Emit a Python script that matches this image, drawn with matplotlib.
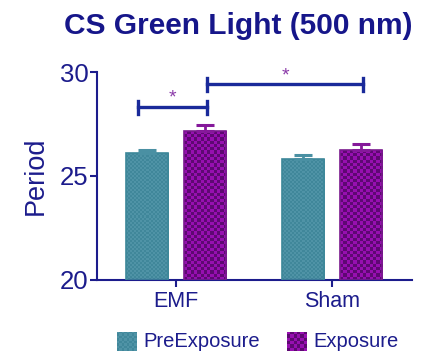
import numpy as np
import matplotlib
matplotlib.use("Agg")
import matplotlib.pyplot as plt

# period values (mean and SEM) per group
groups = ["EMF", "Sham"]
series = ["PreExposure", "Exposure"]
pre_mean = [26.1, 25.8]
pre_err = [0.15, 0.2]
exp_mean = [27.15, 26.25]
exp_err = [0.3, 0.3]

# significance brackets: (x_start, x_end, height)
brackets = [(-0.245, 0.2, 28.3), (0.2, 1.2, 29.4)]

navy = "#1c1c8c"
teal = ("#4f93a6", "#40879a")
purple = ("#970fb0", "#5e0872")

plt.rcParams['font.family'] = ['Liberation Sans', 'DejaVu Sans']

fig = plt.figure(figsize=(4.23, 3.53), dpi=100)
ax = fig.add_axes([0.229, 0.207, 0.745, 0.589])

x = np.arange(len(groups))
w = 0.27
off = 0.187

def checker_fill(bars, colors, cell_px):
    fig.canvas.draw()
    for b in bars:
        bb = b.get_window_extent()
        nx = max(int(bb.width / cell_px), 1)
        ny = max(int(bb.height / cell_px), 1)
        pat = (np.add.outer(np.arange(ny), np.arange(nx)) % 2)
        img = np.zeros((ny, nx, 3))
        c0 = np.array(matplotlib.colors.to_rgb(colors[0]))
        c1 = np.array(matplotlib.colors.to_rgb(colors[1]))
        img[pat == 0] = c0
        img[pat == 1] = c1
        x0, y0 = b.get_x(), b.get_y()
        im = ax.imshow(img, extent=(x0, x0 + b.get_width(), y0, y0 + b.get_height()),
                       aspect='auto', interpolation='nearest', zorder=2)
        im.set_clip_path(b)

b1 = ax.bar(x - off, [m - 20 for m in pre_mean], w, bottom=20, color=teal[0],
            edgecolor="#3d8799", linewidth=1.2, zorder=3)
b2 = ax.bar(x + off, [m - 20 for m in exp_mean], w, bottom=20, color=purple[0],
            edgecolor="#7a1a8e", linewidth=1.2, zorder=3)
for b in list(b1) + list(b2):
    b.set_facecolor("none")

ax.errorbar(x - off, pre_mean, yerr=[[0, 0], pre_err], fmt='none', ecolor="#4a90a3",
            elinewidth=2, capsize=6.5, capthick=2.2, zorder=4)
ax.errorbar(x + off, exp_mean, yerr=[[0, 0], exp_err], fmt='none', ecolor="#85199a",
            elinewidth=2, capsize=6.5, capthick=2.2, zorder=4)

for x0, x1, h in brackets:
    ax.plot([x0, x1], [h, h], color="#1a2a9a", lw=2.4, clip_on=False, zorder=5)
    for xe in (x0, x1):
        ax.plot([xe, xe], [h - 0.3, h + 0.3], color="#1a2a9a", lw=2.4,
                clip_on=False, zorder=5)
    ax.text((x0 + x1) / 2, h + 0.02, "*", color="#8a3aa8", fontsize=14,
            ha='center', va='bottom')

ax.set_xlim(-0.506, 1.513)
ax.set_ylim(20, 30)
ax.set_yticks([20, 25, 30])
ax.set_xticks(x)
ax.set_xticklabels(groups)

for s in ["top", "right"]:
    ax.spines[s].set_visible(False)
for s in ["left", "bottom"]:
    ax.spines[s].set_color(navy)
    ax.spines[s].set_linewidth(1.5)

ax.tick_params(axis='y', colors=navy, labelsize=18.5, length=5, width=1.5, pad=1)
ax.tick_params(axis='x', colors=navy, labelsize=15.5, length=5, width=1.5, pad=3)
ax.set_ylabel("Period", color=navy, fontsize=19.5, labelpad=8)

fig.suptitle("CS Green Light (500 nm)", x=0.564, y=0.966, color="#16168a",
             fontsize=21.5, fontweight='bold')

checker_fill(b1, teal, 2.0)
checker_fill(b2, purple, 3.2)

# legend drawn by hand below the axes
lx = [0.277, 0.679]
for i, name in enumerate(series):
    ax_l = fig.add_axes([lx[i], 0.005, 0.045, 0.055])
    ax_l.axis("off")
    cols = teal if i == 0 else purple
    n = 8 if i == 0 else 6
    pat = np.add.outer(np.arange(n), np.arange(n)) % 2
    img = np.where(pat[..., None] == 0, np.array(matplotlib.colors.to_rgb(cols[0])),
                   np.array(matplotlib.colors.to_rgb(cols[1])))
    ax_l.imshow(img, extent=(0, 1, 0, 1), aspect='auto', interpolation='nearest')
    fig.text(lx[i] + 0.062, 0.032, name, color=navy, fontsize=14.5, va='center')

fig.savefig("out.png", dpi=100)
